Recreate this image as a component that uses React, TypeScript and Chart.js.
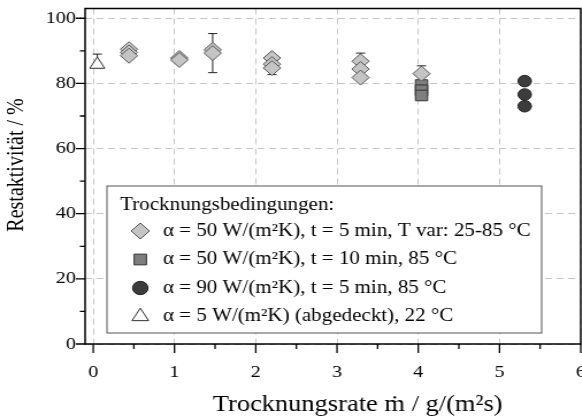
import React, { useEffect, useRef } from 'react';
import { Chart, registerables } from 'chart.js';
import { drawPoint } from 'chart.js/helpers';

Chart.register(...registerables);

// Trocknungsrate ṁ in g/(m²s) and Restaktivität in %, one group per drying condition
const rateDiamond = [0.44, 0.44, 0.44, 1.06, 1.06, 1.47, 1.47, 2.2, 2.2, 2.2, 3.29, 3.29, 3.29, 4.04];
const actDiamond = [90.5, 89.5, 88.5, 87.8, 87.2, 90.3, 89.3, 87.8, 85.9, 84.7, 86.8, 84.4, 81.8, 83.0];
const errUpDiamond = [0, 0, 0, 0, 0, 0, 6, 0, 0, 2, 2.5, 0, 0, 2.4];
const errDownDiamond = [0, 0, 0, 0, 0, 0, 6, 0, 0, 2, 2.5, 0, 0, 2.4];

const rateSquare = [4.04, 4.04, 4.04];
const actSquare = [79.5, 77.9, 76.3];
const errUpSquare = [0, 0, 0];
const errDownSquare = [0, 0, 0];

const rateCircle = [5.31, 5.31, 5.31];
const actCircle = [80.7, 76.6, 73.0];
const errUpCircle = [0, 0, 1];
const errDownCircle = [0, 0, 1];

const rateTriangle = [0.05];
const actTriangle = [85.8];
const errUpTriangle = [3.2];
const errDownTriangle = [1];

const seriesLabels = [
  'α = 50 W/(m²K), t = 5 min, T var: 25-85 °C',
  'α = 50 W/(m²K), t = 10 min, 85 °C',
  'α = 90 W/(m²K), t = 5 min, 85 °C',
  'α = 5 W/(m²K) (abgedeckt), 22 °C',
];
const legendTitle = 'Trocknungsbedingungen:';
const xTitle = 'Trocknungsrate ṁ / g/(m²s)';
const yTitle = 'Restaktivität / %';

const xMajor = [0, 1, 2, 3, 4, 5, 6];
const xMinor = [0.5, 1.5, 2.5, 3.5, 4.5, 5.5];
const yMajor = [0, 20, 40, 60, 80, 100];
const yMinor = [10, 30, 50, 70, 90];

const FONT = '"Liberation Serif", "Times New Roman", serif';

const points = (xs: number[], ys: number[]) => xs.map((x, i) => ({ x, y: ys[i] }));

const overlay = {
  id: 'overlay',
  beforeDatasetsDraw(chart: any) {
    const { ctx, scales } = chart;
    const { x, y } = scales;
    ctx.save();
    ctx.strokeStyle = '#222';
    ctx.lineWidth = 1;
    chart.data.datasets.forEach((ds: any) => {
      const up: number[] = ds.errorUp || [];
      const down: number[] = ds.errorDown || [];
      ds.data.forEach((p: any, i: number) => {
        if (!up[i] && !down[i]) return;
        const px = x.getPixelForValue(p.x);
        const top = y.getPixelForValue(p.y + (up[i] || 0));
        const bot = y.getPixelForValue(p.y - (down[i] || 0));
        ctx.beginPath();
        ctx.moveTo(px, top);
        ctx.lineTo(px, bot);
        ctx.moveTo(px - 4, top);
        ctx.lineTo(px + 4, top);
        ctx.moveTo(px - 4, bot);
        ctx.lineTo(px + 4, bot);
        ctx.stroke();
      });
    });
    ctx.restore();
  },
  afterDatasetsDraw(chart: any) {
    const { ctx, chartArea: a, scales } = chart;
    const { x, y } = scales;
    ctx.save();

    // frame and outward tick marks
    ctx.strokeStyle = '#000';
    ctx.lineWidth = 1.5;
    ctx.strokeRect(a.left, a.top, a.right - a.left, a.bottom - a.top);
    ctx.lineWidth = 1.3;
    ctx.beginPath();
    xMajor.forEach((v) => {
      const px = x.getPixelForValue(v);
      ctx.moveTo(px, a.bottom);
      ctx.lineTo(px, a.bottom + 9);
    });
    xMinor.forEach((v) => {
      const px = x.getPixelForValue(v);
      ctx.moveTo(px, a.bottom);
      ctx.lineTo(px, a.bottom + 5);
    });
    yMajor.forEach((v) => {
      const py = y.getPixelForValue(v);
      ctx.moveTo(a.left - 8, py);
      ctx.lineTo(a.left, py);
    });
    yMinor.forEach((v) => {
      const py = y.getPixelForValue(v);
      ctx.moveTo(a.left - 4.5, py);
      ctx.lineTo(a.left, py);
    });
    ctx.stroke();

    // axis titles
    ctx.fillStyle = '#000';
    ctx.textBaseline = 'middle';
    ctx.textAlign = 'center';
    ctx.font = `23px ${FONT}`;
    ctx.fillText(xTitle, 311, 405);
    ctx.save();
    ctx.translate(15, 165);
    ctx.rotate(-Math.PI / 2);
    ctx.font = `20px ${FONT}`;
    ctx.fillText(yTitle, 0, 0);
    ctx.restore();

    // legend box
    const bx = 93, by = 186, bw = 378, bh = 147;
    ctx.fillStyle = '#fff';
    ctx.fillRect(bx, by, bw, bh);
    ctx.strokeStyle = '#555';
    ctx.lineWidth = 1;
    ctx.strokeRect(bx, by, bw, bh);
    ctx.fillStyle = '#000';
    ctx.textAlign = 'left';
    ctx.font = `18.3px ${FONT}`;
    ctx.fillText(legendTitle, 104.5, 205);
    const rows = [231, 259.5, 288, 316.5];
    const legendRadius = [8, 7.6, 6.7, 8.3];
    chart.data.datasets.forEach((ds: any, i: number) => {
      ctx.fillStyle = ds.pointBackgroundColor;
      ctx.strokeStyle = ds.pointBorderColor;
      ctx.lineWidth = 1;
      drawPoint(ctx, { pointStyle: ds.pointStyle, radius: legendRadius[i], rotation: 0, borderWidth: 1 }, 122, rows[i]);
      ctx.fillStyle = '#000';
      ctx.fillText(ds.label, 141.7, rows[i]);
    });
    ctx.restore();
  },
};

export default function App() {
  const canvasRef = useRef<HTMLCanvasElement | null>(null);

  useEffect(() => {
    const canvas = canvasRef.current;
    if (!canvas) return;
    const mk = (
      label: string, xs: number[], ys: number[], up: number[], down: number[],
      style: string, r: number, fill: string, border: string,
    ) => ({
      label,
      data: points(xs, ys),
      errorUp: up,
      errorDown: down,
      pointStyle: style,
      pointRadius: r,
      pointBackgroundColor: fill,
      pointBorderColor: border,
      pointBorderWidth: 1,
      backgroundColor: fill,
      borderColor: border,
      showLine: false,
    });
    const chart = new Chart(canvas, {
      type: 'scatter',
      data: {
        datasets: [
          mk(seriesLabels[0], rateDiamond, actDiamond, errUpDiamond, errDownDiamond, 'rectRot', 7.5, '#c4c4c4', '#555555'),
          mk(seriesLabels[1], rateSquare, actSquare, errUpSquare, errDownSquare, 'rect', 7.5, '#7e7e7e', '#333333'),
          mk(seriesLabels[2], rateCircle, actCircle, errUpCircle, errDownCircle, 'circle', 5.8, '#3c3c3c', '#222222'),
          mk(seriesLabels[3], rateTriangle, actTriangle, errUpTriangle, errDownTriangle, 'triangle', 7.5, '#ffffff', '#333333'),
        ] as any,
      },
      options: {
        responsive: false,
        animation: false,
        devicePixelRatio: 1,
        layout: { padding: { top: 6, right: 15, left: 0, bottom: 0 } },
        plugins: { legend: { display: false }, tooltip: { enabled: false } },
        scales: {
          x: {
            type: 'linear',
            min: -0.1,
            max: 6,
            afterBuildTicks: (s: any) => { s.ticks = xMajor.map((value) => ({ value })); },
            afterFit: (s: any) => { s.height = 74; s.paddingLeft = 0; s.paddingRight = 0; },
            ticks: { font: { family: FONT, size: 17.5 }, color: '#000', padding: 18, maxRotation: 0, autoSkip: false },
            grid: { color: '#c6c6c6', lineWidth: 1, drawTicks: false },
            border: { display: false, dash: [6, 4] },
          },
          y: {
            type: 'linear',
            min: 0,
            max: 103,
            afterBuildTicks: (s: any) => { s.ticks = yMajor.map((value) => ({ value })); },
            afterFit: (s: any) => { s.width = 74; s.paddingTop = 0; s.paddingBottom = 0; },
            ticks: { font: { family: FONT, size: 17.5 }, color: '#000', padding: 8, autoSkip: false },
            grid: { color: '#c6c6c6', lineWidth: 1, drawTicks: false },
            border: { display: false, dash: [6, 4] },
          },
        },
      } as any,
      plugins: [overlay],
    });
    return () => chart.destroy();
  }, []);

  return (
    <div style={{ position: 'fixed', left: 0, top: 0, width: 582, height: 418, overflow: 'hidden', background: '#fff' }}>
      <canvas ref={canvasRef} width={520} height={418} style={{ width: 598, height: 418 }} />
    </div>
  );
}
